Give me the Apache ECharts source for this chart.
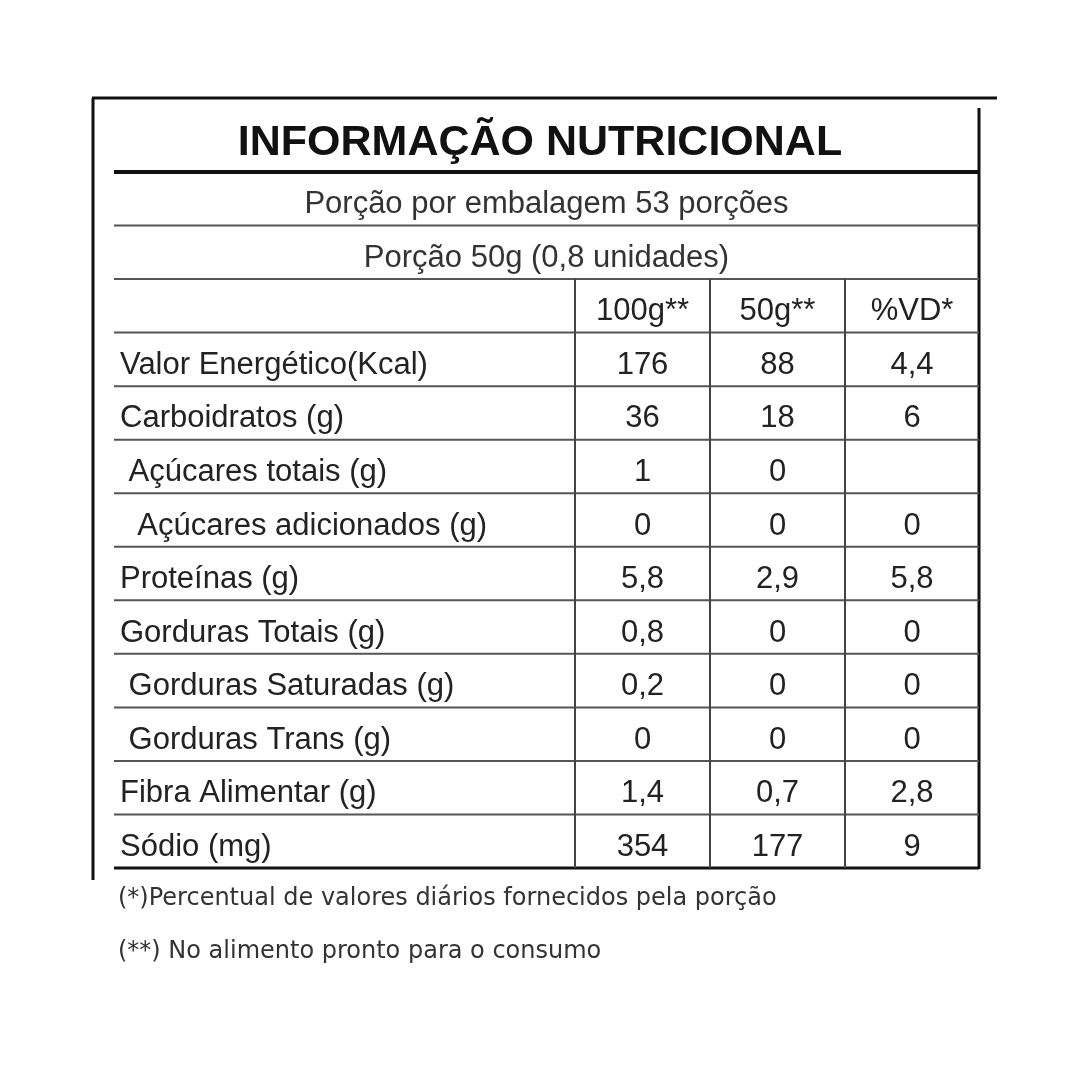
<!DOCTYPE html>
<html>
<head>
<meta charset="utf-8">
<script src="https://cdn.jsdelivr.net/npm/echarts@6/dist/echarts.min.js"></script>
<style>html,body{margin:0;background:#fff}#main{width:1080px;height:1080px}</style>
</head>
<body>
<div id="main"></div>
<script>
// dados da tabela
let titleText = "INFORMAÇÃO NUTRICIONAL";
let spanRows = ["Porção por embalagem 53 porções", "Porção 50g (0,8 unidades)"];
let headers = ["", "100g**", "50g**", "%VD*"];
let nutrients = [
    "Valor Energético(Kcal)", "Carboidratos (g)", " Açúcares totais (g)", "  Açúcares adicionados (g)",
    "Proteínas (g)", "Gorduras Totais (g)", " Gorduras Saturadas (g)", " Gorduras Trans (g)",
    "Fibra Alimentar (g)", "Sódio (mg)"
];
let per100 = ["176", "36", "1", "0", "5,8", "0,8", "0,2", "0", "1,4", "354"];
let per50 = ["88", "18", "0", "0", "2,9", "0", "0", "0", "0,7", "177"];
let vd = ["4,4", "6", "", "0", "5,8", "0", "0", "0", "2,8", "9"];
let footnotes = ["(*)Percentual de valores diários fornecidos pela porção", "(**) No alimento pronto para o consumo"];

// layout (unidades do eixo x)
let colEdges = [0, 461, 596, 731, 865];
let font = "Liberation Sans";

let rows = [];
spanRows.forEach(t => rows.push({type: "span", cells: [t]}));
rows.push({type: "head", cells: headers});
nutrients.forEach((n, i) => rows.push({type: "data", cells: [n, per100[i], per50[i], vd[i]]}));

let chart = echarts.init(document.getElementById("main"));

function renderRow(params, api) {
    let r = rows[params.dataIndex];
    let c = api.coord([0, params.dataIndex]);
    let h = api.size([0, 1])[1];
    let top = c[1] - h / 2, bot = c[1] + h / 2;
    let ty = c[1] + 6;
    let xs = colEdges.map(e => api.coord([e, 0])[0]);
    let children = [];
    let last = params.dataIndex === rows.length - 1;
    children.push({type: "line", shape: {x1: xs[0], y1: bot, x2: xs[4], y2: bot},
        style: {stroke: last ? "#111" : "#555", lineWidth: last ? 3 : 2}});
    if (r.type === "span") {
        children.push({type: "text", style: {text: r.cells[0], x: (xs[0] + xs[4]) / 2, y: ty,
            align: "center", verticalAlign: "middle", font: "31px '" + font + "'", fill: "#333"}});
    } else {
        for (let k = 1; k < 4; k++) {
            children.push({type: "line", shape: {x1: xs[k], y1: top, x2: xs[k], y2: bot},
                style: {stroke: "#444", lineWidth: 2}});
        }
        r.cells.forEach((t, k) => {
            let left = k === 0;
            children.push({type: "text", style: {text: t, x: left ? xs[0] + 6 : (xs[k] + xs[k + 1]) / 2, y: ty,
                align: left ? "left" : "center", verticalAlign: "middle",
                font: "31px '" + font + "'", fill: "#222", whiteSpace: "pre"}});
        });
    }
    return {type: "group", children: children};
}

let option = {
    animation: false,
    grid: {left: 114, right: 101, top: 172, bottom: 212},
    xAxis: {type: "value", min: 0, max: 865, show: false},
    yAxis: {type: "category", inverse: true, data: rows.map((r, i) => i), show: false},
    title: {text: titleText, left: "center", top: 117,
        textStyle: {fontFamily: font, fontSize: 43, fontWeight: "bold", color: "#111"}},
    graphic: [
        {type: "line", shape: {x1: 92, y1: 98, x2: 997, y2: 98}, style: {stroke: "#111", lineWidth: 3}},
        {type: "line", shape: {x1: 93, y1: 98, x2: 93, y2: 880}, style: {stroke: "#111", lineWidth: 3}},
        {type: "line", shape: {x1: 979, y1: 108, x2: 979, y2: 869}, style: {stroke: "#111", lineWidth: 3}},
        {type: "line", shape: {x1: 114, y1: 172, x2: 979, y2: 172}, style: {stroke: "#111", lineWidth: 4}},
        {type: "text", left: 118, top: 887, style: {text: footnotes[0], font: "24px 'DejaVu Sans'", fill: "#333"}},
        {type: "text", left: 118, top: 940, style: {text: footnotes[1], font: "24px 'DejaVu Sans'", fill: "#333"}}
    ],
    series: [{
        type: "custom",
        renderItem: renderRow,
        data: rows.map((r, i) => [0, i]),
        encode: {x: 0, y: 1}
    }]
};
chart.setOption(option);
</script>
</body>
</html>
